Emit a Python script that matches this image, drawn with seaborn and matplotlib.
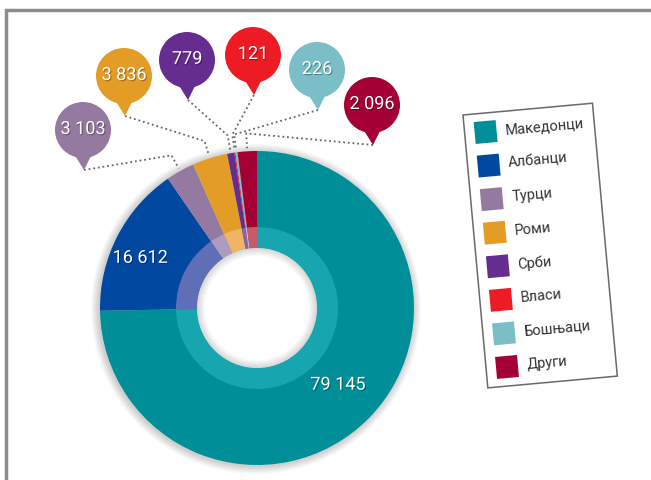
import numpy as np
import matplotlib
matplotlib.use('Agg')
import matplotlib.pyplot as plt
import matplotlib.patheffects as pe
from matplotlib.patches import Circle, Polygon, Rectangle, Wedge
from matplotlib.transforms import Affine2D
import seaborn as sns

# data
groups = ['Македонци', 'Албанци', 'Турци', 'Роми', 'Срби', 'Власи', 'Бошњаци', 'Други']
population = [79145, 16612, 3103, 3836, 779, 121, 226, 2096]
value_labels = ['79 145', '16 612', '3 103', '3 836', '779', '121', '226', '2 096']

colors = ['#008e98', '#0048a0', '#9479a0', '#e39d27', '#662d91', '#ed1c24', '#7abfc7', '#a50034']
ring_colors = ['#17a6b0', '#5e6fb8', '#ad9cc2', '#eeb663', '#8a62ad', '#f26169', '#a5d4d9', '#c95a6e']

# layout (image pixels, y measured from top)
inside = {0: (0.71, 1), 1: (0.81, 4)}   # label -> (fraction of radius, angle shift)
pinned = [2, 3, 4, 5, 6, 7]
pin_xy = [(83, 130), (124, 76), (187, 60), (253, 55), (317, 70), (372, 105)]

W, H = 651, 480
def iy(y):
    return H - y

sns.set_style('white')
plt.rcParams['font.family'] = ['Roboto', 'DejaVu Sans']
palette = sns.color_palette(colors)
ring_palette = sns.color_palette(ring_colors)

fig = plt.figure(figsize=(W / 100, H / 100), dpi=100)
ax = fig.add_axes([0, 0, 1, 1])

cx, cy = 257, iy(308)
R, r_hole, r_ring = 157, 60, 81

# soft shadow around the donut
for i in range(1, 9):
    ax.add_patch(Circle((cx - 1, cy - 1), R + i, color='k', alpha=0.022, lw=0, zorder=0))

wedges, _ = ax.pie(population, colors=palette, startangle=90, counterclock=False,
                   radius=R, center=(cx, cy), frame=True,
                   wedgeprops=dict(width=R - r_hole, linewidth=0))
ax.pie(population, colors=ring_palette, startangle=90, counterclock=False,
       radius=r_ring, center=(cx, cy), frame=True,
       wedgeprops=dict(width=r_ring - r_hole, linewidth=0))

# white hole with an inner shadow
ax.add_patch(Circle((cx, cy), r_hole, color='white', lw=0, zorder=2))
for i in range(8):
    ax.add_patch(Wedge((cx, cy), r_hole, 0, 360, width=i + 1, color='k', alpha=0.02, lw=0, zorder=3))

def mid_angle(w):
    return np.deg2rad((w.theta1 + w.theta2) / 2)

def polar(rad, a):
    return cx + rad * np.cos(a), cy + rad * np.sin(a)

for k, (frac, shift) in inside.items():
    x, y = polar(R * frac, mid_angle(wedges[k]) + np.deg2rad(shift))
    ax.text(x, y, value_labels[k], color='white', fontsize=13, ha='center', va='center', zorder=4,
            path_effects=[pe.withSimplePatchShadow(offset=(0.8, -0.8), shadow_rgbFace='k', alpha=0.3)])

# pins with dotted leaders
for k, (px, py) in zip(pinned, pin_xy):
    a = mid_angle(wedges[k])
    tip = (px + 1, iy(py) - 40)
    elbow = polar(R + 18, a)
    end = polar(R + 3, a)
    ax.plot([tip[0], elbow[0], end[0]], [tip[1], elbow[1], end[1]], color='#666666', lw=1.3,
            linestyle=(0, (1, 1.6)), zorder=2)
    ax.add_patch(Circle((px, iy(py)), 28, color=palette[k], lw=0, zorder=5))
    ax.add_patch(Polygon([(px - 9, iy(py) - 24), (px + 9, iy(py) - 24), tip], closed=True,
                         color=palette[k], lw=0, zorder=5))
    ax.text(px, iy(py) + 1, value_labels[k], color='white', fontsize=13, ha='center', va='center', zorder=6,
            path_effects=[pe.withSimplePatchShadow(offset=(0.8, -0.8), shadow_rgbFace='k', alpha=0.3)])

# tilted legend box
angle = 5.2
tr = Affine2D().rotate_deg(angle).translate(463, iy(115)) + ax.transData
ax.add_patch(Rectangle((0, -274), 130, 274, fc='white', ec='#6a6a6a', lw=1.1, transform=tr, zorder=5))
step = 33.7
for i, name in enumerate(groups):
    ax.add_patch(Rectangle((10, -8 - i * step - 22), 22, 22, color=palette[i], lw=0, transform=tr, zorder=6))
    ax.text(41, -19 - i * step, name, transform=tr, rotation=angle, rotation_mode='anchor',
            ha='left', va='center', fontsize=10.5, color='#333333', zorder=6)

# outer frame
ax.add_patch(Rectangle((6, -50), 800, iy(10) + 50, fc='none', ec='#8c8c8c', lw=2.5, zorder=7))

ax.set_xlim(0, W)
ax.set_ylim(0, H)
ax.set_aspect('equal')
ax.axis('off')

fig.savefig('out.png', dpi=100)
